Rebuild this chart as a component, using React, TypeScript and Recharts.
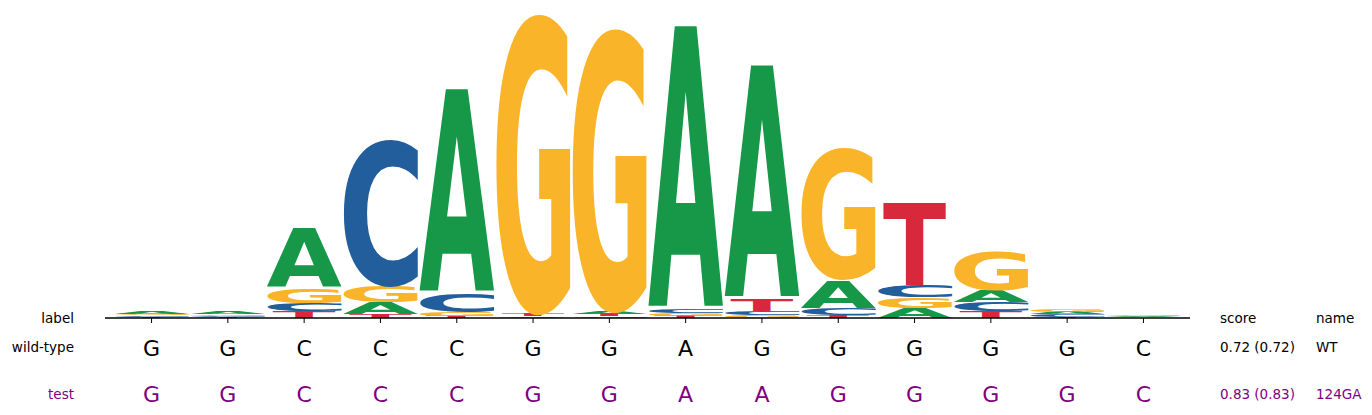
import { Bar, BarChart, XAxis, YAxis } from 'recharts'

// sequence logo: information content per base (bits)
const positions = [1, 2, 3, 4, 5, 6, 7, 8, 9, 10, 11, 12, 13, 14]
const heightA = [0.013, 0.012, 0.392, 0.078, 1.34, 0.01, 0.016, 1.863, 1.536, 0.183, 0.065, 0.078, 0.018, 0.007]
const heightC = [0.01, 0.008, 0.052, 0.967, 0.124, 0.003, 0.012, 0.022, 0.026, 0.046, 0.078, 0.059, 0.016, 0.003]
const heightG = [0.011, 0.01, 0.098, 0.105, 0.026, 1.98, 1.872, 0.02, 0.02, 0.876, 0.072, 0.255, 0.02, 0.01]
const heightT = [0.007, 0.007, 0.046, 0.026, 0.013, 0.016, 0.014, 0.013, 0.078, 0.02, 0.549, 0.046, 0.007, 0.001]

const wildType = ['G', 'G', 'C', 'C', 'C', 'G', 'G', 'A', 'G', 'G', 'G', 'G', 'G', 'C']
const testSeq = ['G', 'G', 'C', 'C', 'C', 'G', 'G', 'A', 'A', 'G', 'G', 'G', 'G', 'C']

const rowLabels = ['label', 'wild-type', 'test']
const scoreCol = ['score', '0.72 (0.72)', '0.83 (0.83)']
const nameCol = ['name', 'WT', '124GA']

const colors: Record<string, string> = {
  A: '#169848',
  C: '#215e9b',
  G: '#f9b42a',
  T: '#d8293c',
}
// T is drawn narrower than the column, like the original
const widthFrac: Record<string, number> = { A: 1, C: 1, G: 1, T: 0.84 }
const purple = '#800080'
const font = '"DejaVu Sans", sans-serif'

// ink box of each glyph, so letters can be stretched to fill their bar
const glyphFont = 'bold 100px "DejaVu Sans"'
const metrics: Record<string, { l: number; r: number; a: number; d: number }> = {}
{
  const ctx = document.createElement('canvas').getContext('2d')
  for (const ch of ['A', 'C', 'G', 'T']) {
    if (ctx) {
      ctx.font = glyphFont
      const m = ctx.measureText(ch)
      metrics[ch] = {
        l: m.actualBoundingBoxLeft,
        r: m.actualBoundingBoxRight,
        a: m.actualBoundingBoxAscent,
        d: m.actualBoundingBoxDescent,
      }
    } else {
      metrics[ch] = { l: 0, r: 70, a: 73, d: 0 }
    }
  }
}

// stack letters smallest at the bottom
const data = positions.map((pos, i) => {
  const stack = [
    { ch: 'A', v: heightA[i] },
    { ch: 'C', v: heightC[i] },
    { ch: 'G', v: heightG[i] },
    { ch: 'T', v: heightT[i] },
  ].sort((a, b) => a.v - b.v)
  const row: Record<string, number | string> = { pos }
  stack.forEach((s, k) => {
    row[`r${k}`] = s.v
    row[`l${k}`] = s.ch
  })
  return row
})

function Glyph(props: any) {
  const { x, y, width, height, letter } = props
  if (!letter || !(width > 0) || !(height > 0)) return null
  const m = metrics[letter]
  const w = width * widthFrac[letter]
  const x0 = x + (width - w) / 2
  const sx = w / (m.l + m.r)
  const sy = height / (m.a + m.d)
  return (
    <text
      x={0}
      y={0}
      fontSize={100}
      fontFamily={font}
      fontWeight="bold"
      fill={colors[letter]}
      transform={`translate(${x0},${y}) scale(${sx},${sy}) translate(${m.l},${m.a})`}
    >
      {letter}
    </text>
  )
}

function SeqTick(props: any) {
  const { x, y, index } = props
  return (
    <g>
      <text x={x} y={y + 33} textAnchor="middle" fontFamily={font} fontSize={22} fill="#000">
        {wildType[index]}
      </text>
      <text x={x} y={y + 79} textAnchor="middle" fontFamily={font} fontSize={22} fill={purple}>
        {testSeq[index]}
      </text>
    </g>
  )
}

const rowY = [323, 352, 399]

export default function App() {
  return (
    <div style={{ position: 'absolute', left: 0, top: 0, width: 1372, height: 415, background: '#fff' }}>
      <BarChart
        width={1372}
        height={415}
        data={data}
        margin={{ top: 12, right: 182, bottom: 0, left: 105 }}
        barCategoryGap={0.5}
      >
        <XAxis
          dataKey="pos"
          height={97}
          interval={0}
          padding={{ left: 8.4, right: 8.4 }}
          tickSize={5}
          tickMargin={0}
          axisLine={{ stroke: '#000', strokeWidth: 1.3 }}
          tickLine={{ stroke: '#000', strokeWidth: 1 }}
          tick={<SeqTick />}
        />
        <YAxis hide domain={[0, 2]} />
        {[0, 1, 2, 3].map((k) => (
          <Bar
            key={k}
            dataKey={`r${k}`}
            stackId="logo"
            isAnimationActive={false}
            shape={(p: any) => <Glyph {...p} letter={p.payload[`l${k}`]} />}
          />
        ))}
      </BarChart>
      <svg width={1372} height={415} style={{ position: 'absolute', left: 0, top: 0, pointerEvents: 'none' }}>
        {rowLabels.map((t, i) => (
          <text key={t} x={74} y={rowY[i]} textAnchor="end" fontFamily={font} fontSize={13.5} fill={i === 2 ? purple : '#000'}>
            {t}
          </text>
        ))}
        {scoreCol.map((t, i) => (
          <text key={t} x={1220} y={rowY[i]} fontFamily={font} fontSize={13.5} fill={i === 2 ? purple : '#000'}>
            {t}
          </text>
        ))}
        {nameCol.map((t, i) => (
          <text key={t} x={1316} y={rowY[i]} fontFamily={font} fontSize={13.5} fill={i === 2 ? purple : '#000'}>
            {t}
          </text>
        ))}
      </svg>
    </div>
  )
}
